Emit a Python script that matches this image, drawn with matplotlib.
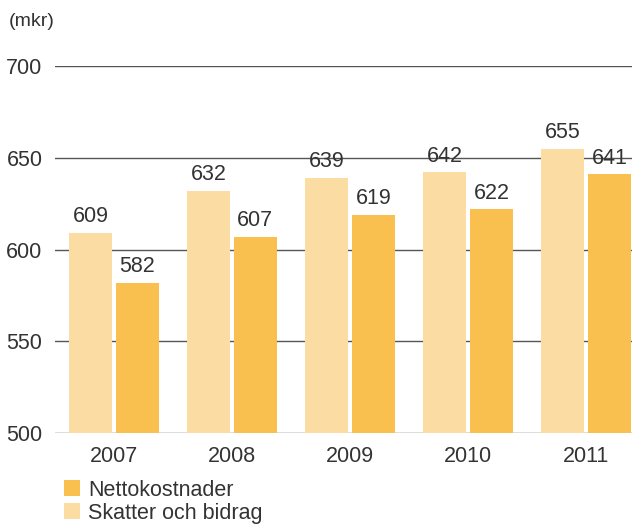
import numpy as np
import matplotlib.pyplot as plt

years = ["2007", "2008", "2009", "2010", "2011"]
skatter = [609, 632, 639, 642, 655]
netto = [582, 607, 619, 622, 641]
yticks = [500, 550, 600, 650, 700]

light = "#FBDDA3"
orange = "#F9C04F"
txt = "#333333"

plt.rcParams["font.family"] = ["Liberation Sans", "DejaVu Sans"]

fig = plt.figure(figsize=(6.37, 5.26), dpi=100)
ax = fig.add_axes([0.0863, 0.1768, 0.9057, 0.6977])

x = np.arange(len(years))
w = 0.364
off = 0.199
b1 = ax.bar(x - off, skatter, w, color=light, zorder=2, label="Skatter och bidrag")
b2 = ax.bar(x + off, netto, w, color=orange, zorder=2, label="Nettokostnader")
ax.bar_label(b1, padding=4, fontsize=15.5, color=txt)
ax.bar_label(b2, padding=4, fontsize=15.5, color=txt)

for yv in yticks:
    ax.axhline(yv, color="#555555", lw=1.0, zorder=1)

ax.set_ylim(500, 700)
ax.set_xlim(-0.5, 4.39)
ax.set_yticks(yticks)
ax.set_xticks(x, years)
ax.tick_params(length=0, labelsize=15.5, colors=txt)
ax.tick_params(axis="y", pad=9)
ax.tick_params(axis="x", pad=9)
for s in ax.spines.values():
    s.set_visible(False)

fig.text(0.013, 0.96, "(mkr)", fontsize=14, color=txt, va="center")

fig.legend(handles=[b2, b1], loc="upper left", bbox_to_anchor=(0.1, 0.088),
           frameon=False, fontsize=15.5, handlelength=0.75, handleheight=0.75,
           handletextpad=0.4, labelspacing=0.1, borderpad=0, borderaxespad=0,
           labelcolor=txt)

fig.savefig("out.png", dpi=100, facecolor="white")
